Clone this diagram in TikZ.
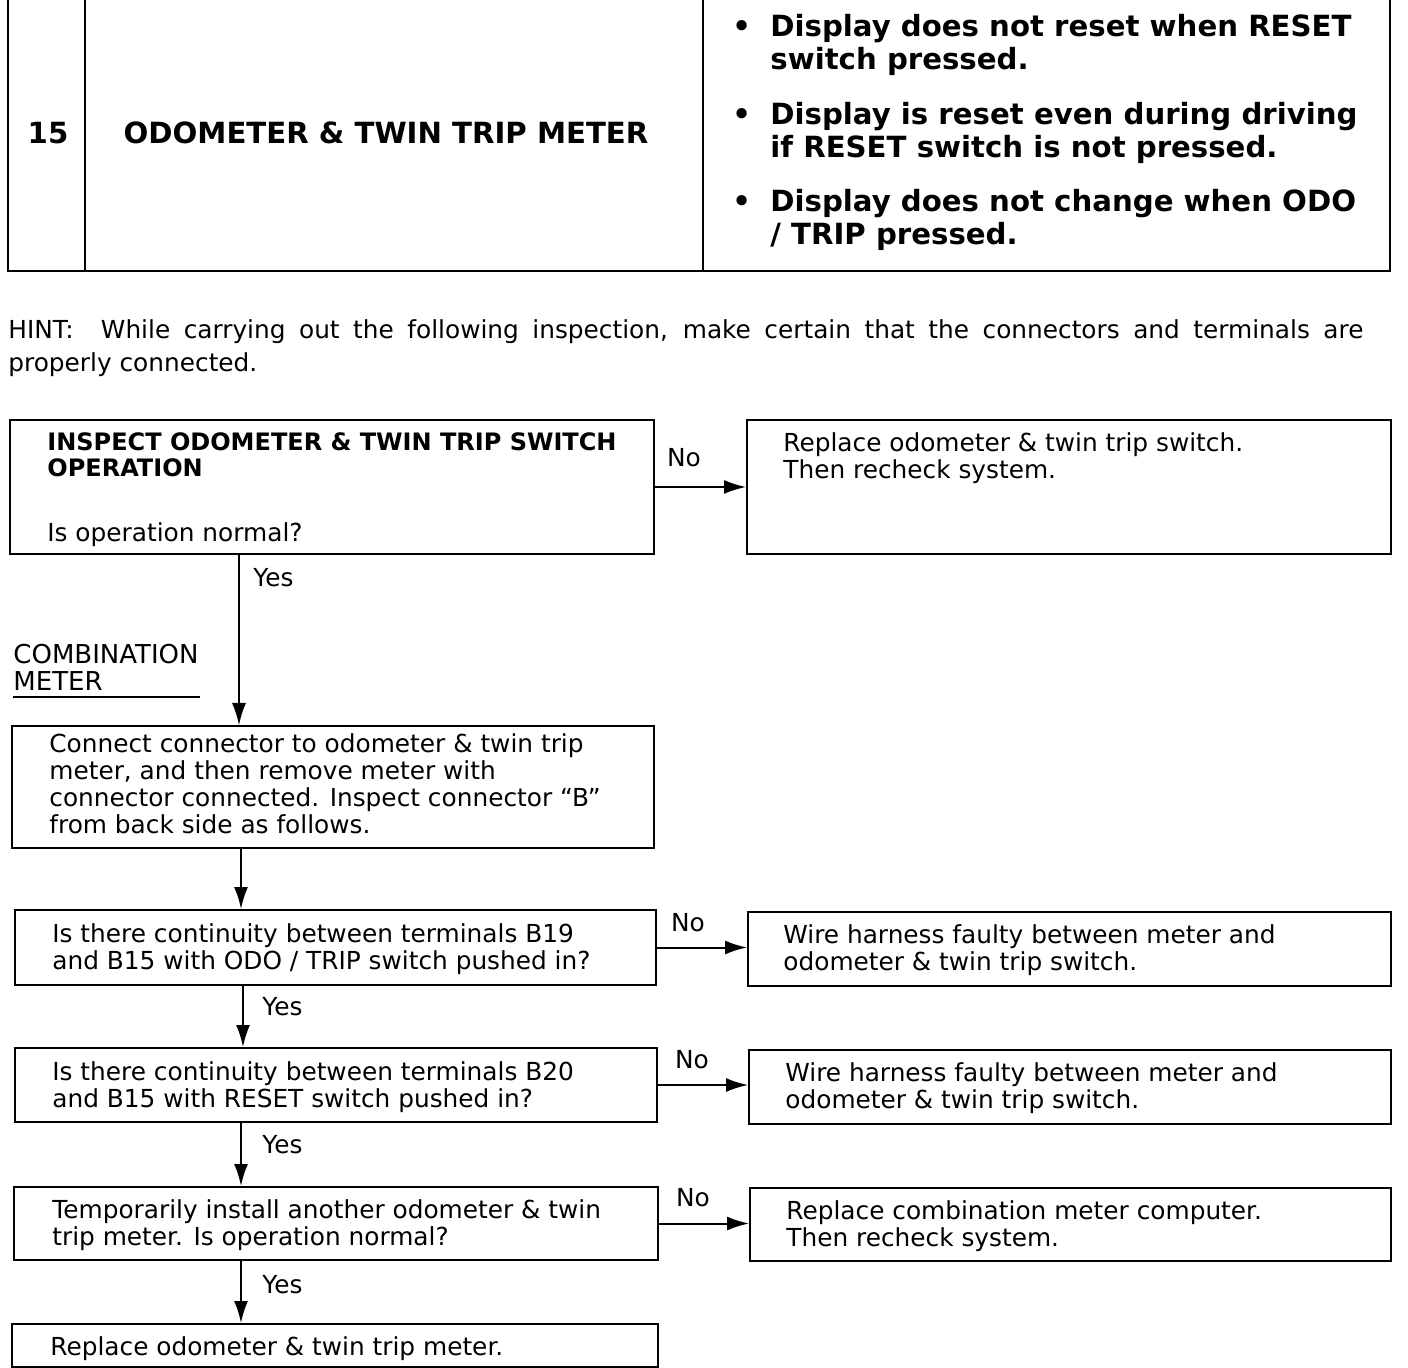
\documentclass[tikz,border=0pt]{standalone}
\usepackage{fontspec}
\setmainfont{DejaVu Sans}
\usetikzlibrary{arrows.meta}
\begin{document}
\begin{tikzpicture}[x=0.5pt,y=-0.5pt,
  box/.style={draw,line width=1pt,inner sep=0pt,anchor=north west},
  txt/.style={anchor=north west,inner sep=0pt,align=left,font=\fontsize{12.4}{13.5}\selectfont},
  btxt/.style={anchor=north west,inner sep=0pt,align=left,font=\fontsize{12}{13}\selectfont\bfseries},
  head/.style={inner sep=0pt,font=\fontsize{14.6}{16.5}\selectfont\bfseries},
  item/.style={head,anchor=north west,align=left},
  lbl/.style={inner sep=0pt,font=\fontsize{12.4}{13.5}\selectfont},
  arr/.style={line width=1pt,-{Latex[length=11pt,width=7pt]}},
  rule/.style={line width=1pt}
]
\useasboundingbox (0,0) rectangle (1408,1368);

% header table
\draw[rule] (8,0) -- (8,271) -- (1390,271) -- (1390,0);
\draw[rule] (85,0) -- (85,271);
\draw[rule] (703,0) -- (703,271);
\node[head] (num) at (48,133) {15};
\node[head] (title) at (386,133) {ODOMETER \& TWIN TRIP METER};
\node[item] (i1) at (770,14) {\llap{•\hspace{9.7pt}}Display does not reset when RESET\\switch pressed.};
\node[item] (i2) at (770,102) {\llap{•\hspace{9.7pt}}Display is reset even during driving\\if RESET switch is not pressed.};
\node[item] (i3) at (770,189) {\llap{•\hspace{9.7pt}}Display does not change when ODO\\/ TRIP pressed.};

% hint
\node[anchor=north west,inner sep=0pt,align=left,font=\fontsize{12.4}{16.5}\selectfont] (hint) at (8,319)
  {\makebox[677.5pt][s]{HINT:\hspace{1.1em}While carrying out the following inspection, make certain that the connectors and terminals are}\\properly connected.};

% boxes
\node[box,minimum width=322pt,minimum height=67pt] (b1) at (9,419) {};
\node[btxt] (t1a) at (47,432) {INSPECT ODOMETER \& TWIN TRIP SWITCH\\OPERATION};
\node[txt] (t1b) at (47,522) {Is operation normal?};
\node[box,minimum width=322pt,minimum height=67pt] (r1) at (746,419) {};
\node[txt] (tr1) at (783,432) {Replace odometer \& twin trip switch.\\Then recheck system.};

\node[txt,font=\fontsize{13}{13.5}\selectfont] (cm) at (13,644) {COMBINATION\\METER};
\draw[rule] (13,697) -- (200,697);

\node[box,minimum width=321pt,minimum height=61pt] (b2) at (11,725) {};
\node[txt] (t2) at (49,733) {Connect connector to odometer \& twin trip\\meter, and then remove meter with\\connector connected. Inspect connector “B”\\from back side as follows.};

\node[box,minimum width=320.5pt,minimum height=37.5pt] (b3) at (14,909) {};
\node[txt] (t3) at (52,923) {Is there continuity between terminals B19\\and B15 with ODO / TRIP switch pushed in?};
\node[box,minimum width=321.5pt,minimum height=37pt] (r3) at (747,911) {};
\node[txt] (tr3) at (783,924) {Wire harness faulty between meter and\\odometer \& twin trip switch.};

\node[box,minimum width=321pt,minimum height=37pt] (b4) at (14,1047) {};
\node[txt] (t4) at (52,1061) {Is there continuity between terminals B20\\and B15 with RESET switch pushed in?};
\node[box,minimum width=321pt,minimum height=37pt] (r4) at (748,1049) {};
\node[txt] (tr4) at (785,1062) {Wire harness faulty between meter and\\odometer \& twin trip switch.};

\node[box,minimum width=322pt,minimum height=36.5pt] (b5) at (13,1186) {};
\node[txt] (t5) at (52,1199) {Temporarily install another odometer \& twin\\trip meter. Is operation normal?};
\node[box,minimum width=320.5pt,minimum height=36.5pt] (r5) at (749,1187) {};
\node[txt] (tr5) at (786,1200) {Replace combination meter computer.\\Then recheck system.};

\node[box,minimum width=323pt,minimum height=21.5pt] (b6) at (11,1323) {};
\node[txt] (t6) at (50,1336) {Replace odometer \& twin trip meter.};

% vertical connectors
\coordinate (c1) at (239,0);
\coordinate (c2) at (241,0);
\coordinate (c3) at (243,0);
\draw[arr,line width=0.7pt] (b1.south -| c1) -- (b2.north -| c1);
\draw[arr] (b2.south -| c2) -- (b3.north -| c2);
\draw[arr] (b3.south -| c3) -- (b4.north -| c3);
\draw[arr] (b4.south -| c2) -- (b5.north -| c2);
\draw[arr] (b5.south -| c2) -- (b6.north -| c2);
\node[lbl,anchor=west] (y1) at (253,578) {Yes};
\node[lbl,anchor=west] (y2) at (262,1007) {Yes};
\node[lbl,anchor=west] (y3) at (262,1145) {Yes};
\node[lbl,anchor=west] (y4) at (262,1285) {Yes};

% horizontal connectors
\draw[arr] (b1.east) -- (b1.east -| r1.west);
\draw[arr] (b3.east) -- (b3.east -| r3.west);
\draw[arr] (b4.east) -- (b4.east -| r4.west);
\draw[arr] (b5.east) -- (b5.east -| r5.west);
\node[lbl] (n1) at (684,458) {No};
\node[lbl] (n3) at (688,923) {No};
\node[lbl] (n4) at (692,1060) {No};
\node[lbl] (n5) at (693,1198) {No};
\end{tikzpicture}
\end{document}
